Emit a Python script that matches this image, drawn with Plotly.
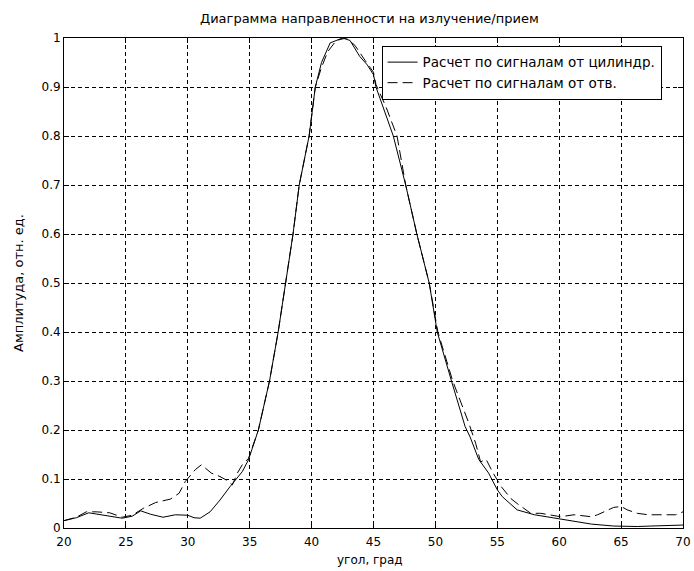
import plotly.graph_objects as go

# Solid curve: "Расчет по сигналам от цилиндр."
angle_cyl = [20, 21, 22, 23, 24, 24.7, 25.5, 26.2, 27, 28, 29, 30, 30.5, 31, 31.8, 32.6,
             33.4, 34.4, 34.9, 35.7, 36.6, 37.3, 37.9, 38.5, 39.0, 39.8, 40.3, 40.8, 41.5,
             42.5, 43.1, 43.9, 44.5, 45.0, 45.2, 45.9, 46.6, 47.6, 48.5, 49.5, 50.15, 51.3,
             52.0, 52.4, 52.8, 53.5, 54.3, 55.0, 55.4, 56.6, 58, 59, 60.1, 61.2, 62.6, 64.4,
             66.3, 67.4, 69.4, 70]
amp_cyl = [0.015, 0.021, 0.031, 0.027, 0.024, 0.02, 0.024, 0.035, 0.028, 0.022, 0.027, 0.026,
           0.021, 0.02, 0.033, 0.057, 0.084, 0.115, 0.139, 0.2, 0.3, 0.4, 0.5, 0.6, 0.7, 0.8,
           0.9, 0.95, 0.99, 1.0, 0.995, 0.962, 0.945, 0.925, 0.9, 0.85, 0.8, 0.7, 0.6, 0.5,
           0.4, 0.3, 0.24, 0.207, 0.186, 0.14, 0.112, 0.078, 0.064, 0.037, 0.027, 0.023,
           0.018, 0.013, 0.008, 0.004, 0.003, 0.004, 0.006, 0.006]

# Dashed curve: "Расчет по сигналам от отв."
angle_hole = [20, 21, 21.8, 22.6, 23.7, 24.7, 25.5, 26.4, 27.4, 28.6, 29.3, 29.8, 30.6, 31.1,
              31.9, 32.6, 33.1, 33.6, 34.0, 34.4, 34.9, 35.7, 36.6, 37.3, 37.9, 38.5, 39.0,
              39.8, 40.3, 40.8, 41.3, 42.0, 42.8, 43.5, 44.3, 45.0, 45.2, 46.0, 46.9, 47.6,
              48.5, 49.5, 50.2, 51.4, 52.7, 53.25, 53.65, 54.1, 54.6, 55.3, 56.1, 56.6, 57.7,
              58.5, 60.1, 61.2, 62.6, 63.1, 64.4, 65.0, 65.5, 66.3, 67.2, 69.4, 70]
amp_hole = [0.015, 0.022, 0.033, 0.033, 0.031, 0.022, 0.026, 0.04, 0.052, 0.059, 0.071, 0.095,
            0.119, 0.129, 0.112, 0.105, 0.098, 0.088, 0.112, 0.129, 0.142, 0.2, 0.3, 0.4,
            0.5, 0.6, 0.7, 0.8, 0.9, 0.94, 0.972, 0.995, 1.0, 0.985, 0.955, 0.93, 0.905,
            0.86, 0.8, 0.7, 0.6, 0.5, 0.4, 0.3, 0.214, 0.173, 0.135, 0.14, 0.115, 0.085,
            0.06, 0.05, 0.03, 0.03, 0.023, 0.027, 0.023, 0.027, 0.042, 0.044, 0.037, 0.03,
            0.027, 0.027, 0.033]

x_ticks = [20, 25, 30, 35, 40, 45, 50, 55, 60, 65, 70]
x_tick_labels = ["20", "25", "30", "35", "40", "45", "50", "55", "60", "65", "70"]
y_ticks = [0, 0.1, 0.2, 0.3, 0.4, 0.5, 0.6, 0.7, 0.8, 0.9, 1]
y_tick_labels = ["0", "0.1", "0.2", "0.3", "0.4", "0.5", "0.6", "0.7", "0.8", "0.9", "1"]

title_text = "Диаграмма направленности на излучение/прием"
x_title = "угол, град"
y_title = "Амплитуда, отн. ед."
name_cyl = "Расчет по сигналам от цилиндр."
name_hole = "Расчет по сигналам от отв."

FONT = "DejaVu Sans, Liberation Sans, sans-serif"

fig = go.Figure()
fig.add_trace(go.Scatter(x=angle_cyl, y=amp_cyl, mode="lines", name=name_cyl,
                         line=dict(color="black", width=1, dash="solid")))
fig.add_trace(go.Scatter(x=angle_hole, y=amp_hole, mode="lines", name=name_hole,
                         line=dict(color="black", width=1, dash="10px,5px")))

axis_common = dict(
    showline=True, linecolor="black", linewidth=1, mirror="ticks",
    ticks="inside", ticklen=5, tickcolor="black", tickwidth=1,
    showgrid=True, gridcolor="black", gridwidth=1, griddash="4px,3px",
    zeroline=False, automargin=False,
    tickfont=dict(family=FONT, size=12, color="black"),
)

fig.update_xaxes(range=[20, 70], tickvals=x_ticks, ticktext=x_tick_labels,
                 ticklabelstandoff=3, **axis_common)
fig.update_yaxes(range=[0, 1], tickvals=y_ticks, ticktext=y_tick_labels, **axis_common)

fig.update_layout(
    width=694, height=571,
    margin=dict(l=64, r=11, t=38, b=43, autoexpand=False),
    paper_bgcolor="white", plot_bgcolor="white",
    legend=dict(x=0.513, y=0.984, xanchor="left", yanchor="top",
                bgcolor="white", bordercolor="black", borderwidth=1,
                font=dict(family=FONT, size=13.5, color="black"),
                tracegroupgap=0, itemwidth=30),
    showlegend=True,
    annotations=[
        dict(text=title_text, xref="paper", yref="paper", x=0.494, y=1.039,
             xanchor="center", yanchor="middle", showarrow=False,
             font=dict(family=FONT, size=13, color="black")),
        dict(text=x_title, xref="paper", yref="paper", x=0.495, y=-0.065,
             xanchor="center", yanchor="middle", showarrow=False,
             font=dict(family=FONT, size=12, color="black")),
        dict(text=y_title, xref="paper", yref="paper", x=-0.0743, y=0.5,
             xanchor="center", yanchor="middle", showarrow=False, textangle=-90,
             font=dict(family=FONT, size=13, color="black")),
    ],
)

fig.write_html("out.html", config={"displayModeBar": False},
               post_script="document.body.style.margin='0';document.body.style.padding='0';")
